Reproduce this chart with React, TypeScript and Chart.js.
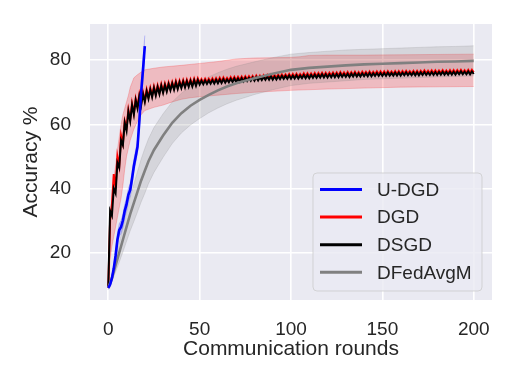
import React, { useEffect, useRef } from "react";
import { Chart, registerables } from "chart.js";

Chart.register(...registerables);

const seriesNames = ["U-DGD", "DGD", "DSGD", "DFedAvgM"];
const seriesColors = ["#0000ff", "#ff0000", "#000000", "#808080"];
const xTicks = [0, 50, 100, 150, 200];
const yTicks = [20, 40, 60, 80];

// U-DGD: rounds 0..20
const uDgd = [9, 10, 12, 15, 19, 24, 27, 28, 30, 33, 35, 38, 39.5, 43, 47, 50, 53, 61, 70, 77, 84.4];
const uDgdStd = [0.5, 0.8, 1, 1.2, 1.5, 2, 2, 2, 2, 2, 2, 2, 2, 2, 2, 2, 2, 2.5, 3, 3.2, 3.3];

// DGD: rounds 0..200
const dgd = [
  9.0, 30.0, 35.0, 44.5, 40.0, 50.0, 47.0, 56.5, 54.0, 61.0,
  59.0, 64.5, 61.5, 66.5, 63.5, 68.0, 65.5, 69.3, 66.5, 70.0,
  67.5, 70.8, 68.5, 71.3, 69.0, 71.8, 69.5, 72.1, 69.9, 72.5,
  70.3, 72.7, 70.7, 73.0, 71.1, 73.2, 71.3, 73.5, 71.5, 73.6,
  71.8, 73.8, 72.0, 73.9, 72.2, 74.0, 72.3, 74.2, 72.5, 74.3,
  72.9, 74.1, 73.0, 74.2, 73.1, 74.2, 73.2, 74.3, 73.2, 74.4,
  73.3, 74.5, 73.4, 74.6, 73.5, 74.5, 73.6, 74.7, 73.7, 74.8,
  73.7, 74.8, 73.8, 74.9, 73.9, 75.0, 74.0, 75.0, 74.1, 75.1,
  74.1, 75.2, 74.2, 75.2, 74.3, 75.3, 74.4, 75.4, 74.4, 75.5,
  74.4, 75.4, 74.5, 75.5, 74.6, 75.6, 74.7, 75.6, 74.7, 75.7,
  74.7, 75.7, 74.8, 75.8, 74.8, 75.7, 74.9, 75.9, 74.9, 75.9,
  74.9, 75.9, 75.0, 76.0, 75.0, 76.0, 75.1, 76.1, 75.1, 76.1,
  75.1, 76.1, 75.2, 76.2, 75.2, 76.2, 75.2, 76.3, 75.3, 76.2,
  75.3, 76.3, 75.3, 76.3, 75.4, 76.4, 75.4, 76.3, 75.4, 76.4,
  75.5, 76.4, 75.5, 76.5, 75.5, 76.4, 75.6, 76.5, 75.6, 76.5,
  75.6, 76.5, 75.6, 76.6, 75.7, 76.5, 75.7, 76.6, 75.7, 76.6,
  75.7, 76.6, 75.8, 76.7, 75.8, 76.6, 75.8, 76.7, 75.8, 76.7,
  75.8, 76.7, 75.9, 76.8, 75.9, 76.7, 75.9, 76.8, 75.9, 76.8,
  75.9, 76.8, 76.0, 76.9, 76.0, 76.8, 76.0, 76.9, 76.0, 76.9,
  76.0, 76.9, 76.1, 77.0, 76.1, 76.9, 76.1, 77.0, 76.1, 77.0,
  76.2,
];

// DSGD: rounds 0..200
const dsgd = [
  9.5, 33.0, 31.5, 40.0, 38.5, 48.0, 46.5, 55.0, 53.5, 60.5,
  58.0, 64.0, 61.0, 66.0, 63.0, 67.5, 65.0, 68.8, 66.0, 69.5,
  67.0, 70.3, 68.0, 70.8, 68.5, 71.3, 69.0, 71.6, 69.4, 72.0,
  69.8, 72.2, 70.2, 72.5, 70.6, 72.7, 70.8, 73.0, 71.0, 73.1,
  71.3, 73.3, 71.5, 73.4, 71.7, 73.5, 71.8, 73.7, 72.0, 73.8,
  72.4, 73.6, 72.5, 73.7, 72.6, 73.7, 72.7, 73.8, 72.7, 73.9,
  72.8, 74.0, 72.9, 74.1, 73.0, 74.0, 73.1, 74.2, 73.2, 74.3,
  73.2, 74.3, 73.3, 74.4, 73.4, 74.5, 73.5, 74.5, 73.6, 74.6,
  73.6, 74.7, 73.7, 74.7, 73.8, 74.8, 73.9, 74.9, 73.9, 75.0,
  73.9, 74.9, 74.0, 75.0, 74.1, 75.1, 74.2, 75.1, 74.2, 75.2,
  74.2, 75.2, 74.3, 75.3, 74.3, 75.2, 74.4, 75.4, 74.4, 75.4,
  74.4, 75.4, 74.5, 75.5, 74.5, 75.5, 74.6, 75.6, 74.6, 75.6,
  74.6, 75.6, 74.7, 75.7, 74.7, 75.7, 74.7, 75.8, 74.8, 75.7,
  74.8, 75.8, 74.8, 75.8, 74.9, 75.9, 74.9, 75.8, 74.9, 75.9,
  75.0, 75.9, 75.0, 76.0, 75.0, 75.9, 75.1, 76.0, 75.1, 76.0,
  75.1, 76.0, 75.1, 76.1, 75.2, 76.0, 75.2, 76.1, 75.2, 76.1,
  75.2, 76.1, 75.3, 76.2, 75.3, 76.1, 75.3, 76.2, 75.3, 76.2,
  75.3, 76.2, 75.4, 76.3, 75.4, 76.2, 75.4, 76.3, 75.4, 76.3,
  75.4, 76.3, 75.5, 76.4, 75.5, 76.3, 75.5, 76.4, 75.5, 76.4,
  75.5, 76.4, 75.6, 76.5, 75.6, 76.4, 75.6, 76.5, 75.6, 76.5,
  75.7,
];

// DGD shaded band
const dgdUpperRounds = [0, 1, 2, 3, 4, 5, 6, 7, 8, 9, 10, 11, 12, 13, 14, 16, 18, 20, 25, 30, 40, 50, 60, 70, 80, 90, 100, 105, 110, 120, 140, 160, 180, 200];
const dgdUpper = [9.5, 31, 37, 43, 47, 52, 56, 60, 63, 65, 67, 69, 71.5, 73, 74.5, 75.5, 76.3, 77, 77.5, 77.9, 78.4, 79.0, 79.6, 80.4, 80.7, 80.8, 80.9, 81.1, 81.5, 81.6, 81.6, 81.7, 81.8, 81.9];
const dgdLowerRounds = [0, 1, 2, 3, 4, 5, 6, 7, 8, 9, 10, 12, 14, 16, 18, 20, 25, 30, 35, 40, 45, 50, 60, 70, 80, 90, 100, 120, 140, 160, 180, 200];
const dgdLower = [8.8, 18, 22, 25, 28, 31, 34, 37, 41, 46, 50, 55, 58.5, 61, 63, 64.3, 65.3, 66, 67, 67.8, 68.3, 68.6, 69.1, 69.6, 70, 70.3, 70.6, 71, 71.3, 71.6, 71.7, 71.8];

// DFedAvgM mean and spread
const avgRounds = [0, 2, 4, 6, 8, 10, 12, 14, 16, 18, 20, 22, 25, 30, 35, 40, 45, 50, 55, 60, 65, 70, 75, 80, 90, 100, 110, 120, 130, 140, 150, 160, 170, 180, 190, 200];
const dfedavgm = [9, 12, 16, 20, 24, 28, 32, 35.5, 39, 42.5, 45.5, 48.5, 52, 56.5, 60.5, 63.5, 65.8, 67.6, 69.2, 70.6, 71.8, 72.8, 73.6, 74.4, 75.8, 77.0, 77.6, 78.0, 78.4, 78.7, 78.9, 79.1, 79.3, 79.5, 79.6, 79.8];
const dfedavgmStd = [0.5, 1, 2, 3, 3.8, 4.5, 5.2, 5.8, 6.3, 6.7, 7, 7, 7, 6.8, 6.5, 6.2, 6, 5.8, 5.6, 5.5, 5.4, 5.3, 5.2, 5.1, 5, 4.9, 4.8, 4.8, 4.8, 4.7, 4.7, 4.7, 4.7, 4.7, 4.7, 4.7];

const TEXT = "#262626";
const FONT = "'Liberation Sans', Arial, 'DejaVu Sans', sans-serif";

const bgPlugin = {
  id: "plotBg",
  beforeDraw(chart: any) {
    const { ctx, chartArea } = chart;
    ctx.save();
    ctx.fillStyle = "#ffffff";
    ctx.fillRect(0, 0, chart.width, chart.height);
    ctx.fillStyle = "#eaeaf2";
    ctx.fillRect(chartArea.left, chartArea.top, chartArea.right - chartArea.left, chartArea.bottom - chartArea.top);
    ctx.restore();
  },
};

const legendPlugin = {
  id: "boxLegend",
  afterDraw(chart: any) {
    const { ctx, chartArea } = chart;
    const w = 169;
    const h = 118;
    const x = chartArea.right - 10 - w;
    const y = chartArea.bottom - 9 - h;
    ctx.save();
    ctx.beginPath();
    if (ctx.roundRect) ctx.roundRect(x, y, w, h, 4);
    else ctx.rect(x, y, w, h);
    ctx.fillStyle = "rgba(234,234,242,0.8)";
    ctx.fill();
    ctx.strokeStyle = "rgba(204,204,204,0.8)";
    ctx.lineWidth = 1;
    ctx.stroke();
    ctx.font = `19px ${FONT}`;
    ctx.textBaseline = "middle";
    ctx.textAlign = "left";
    seriesNames.forEach((name, i) => {
      const ds = chart.data.datasets.find((d: any) => d.label === name);
      const cy = y + 16.5 + i * 27.6;
      ctx.beginPath();
      ctx.moveTo(x + 7, cy);
      ctx.lineTo(x + 49, cy);
      ctx.strokeStyle = ds ? ds.borderColor : seriesColors[i];
      ctx.lineWidth = 3;
      ctx.stroke();
      ctx.fillStyle = TEXT;
      ctx.fillText(name, x + 64, cy + 1);
    });
    ctx.restore();
  },
};

function pts(xs: number[], ys: number[]) {
  return ys.map((y, i) => ({ x: xs[i], y }));
}
function idx(ys: number[]) {
  return ys.map((y, i) => ({ x: i, y }));
}

export default function App() {
  const ref = useRef<HTMLCanvasElement | null>(null);

  useEffect(() => {
    document.body.style.margin = "0";
    const canvas = ref.current;
    if (!canvas) return;

    const uUpper = uDgd.map((v, i) => v + uDgdStd[i]);
    const uLower = uDgd.map((v, i) => v - uDgdStd[i]);
    const aUpper = dfedavgm.map((v, i) => v + dfedavgmStd[i]);
    const aLower = dfedavgm.map((v, i) => v - dfedavgmStd[i]);

    const lineBase = { pointRadius: 0, tension: 0, fill: false };
    const bandBase = { pointRadius: 0, tension: 0, borderWidth: 1 };

    const chart = new Chart(canvas, {
      type: "line",
      data: {
        datasets: [
          { ...lineBase, label: "U-DGD", data: idx(uDgd), borderColor: "#0000ff", borderWidth: 2.6 },
          { ...lineBase, label: "DFedAvgM", data: pts(avgRounds, dfedavgm), borderColor: "#808080", borderWidth: 2.6 },
          { ...lineBase, label: "DSGD", data: idx(dsgd), borderColor: "#000000", borderWidth: 2 },
          { ...lineBase, label: "DGD", data: idx(dgd), borderColor: "#ff0000", borderWidth: 2 },
          { ...bandBase, data: idx(uUpper), borderColor: "rgba(0,0,255,0.2)", backgroundColor: "rgba(0,0,255,0.2)", fill: "+1" },
          { ...bandBase, data: idx(uLower), borderColor: "rgba(0,0,255,0.2)", fill: false },
          { ...bandBase, data: pts(avgRounds, aUpper), borderColor: "rgba(128,128,128,0.2)", backgroundColor: "rgba(128,128,128,0.2)", fill: "+1" },
          { ...bandBase, data: pts(avgRounds, aLower), borderColor: "rgba(128,128,128,0.2)", fill: false },
          { ...bandBase, data: pts(dgdUpperRounds, dgdUpper), borderColor: "rgba(255,0,0,0.2)", backgroundColor: "rgba(255,0,0,0.2)", fill: "+1" },
          { ...bandBase, data: pts(dgdLowerRounds, dgdLower), borderColor: "rgba(255,0,0,0.2)", fill: false },
        ],
      },
      options: {
        animation: false,
        responsive: false,
        maintainAspectRatio: false,
        devicePixelRatio: 1,
        parsing: false as any,
        layout: { padding: { left: 0, right: 23, top: 24, bottom: 0 } },
        plugins: { legend: { display: false }, tooltip: { enabled: false } },
        scales: {
          x: {
            type: "linear",
            min: -10,
            max: 210,
            afterBuildTicks: (s: any) => {
              s.ticks = xTicks.map((v) => ({ value: v }));
            },
            afterFit: (s: any) => {
              s.height = 86;
              s.paddingLeft = 0;
              s.paddingRight = 0;
            },
            grid: { color: "#ffffff", lineWidth: 1.6, drawTicks: false },
            border: { display: false },
            ticks: { color: TEXT, font: { family: FONT, size: 19 }, padding: 18, maxRotation: 0 },
            title: { display: true, text: "Communication rounds", color: TEXT, font: { family: FONT, size: 21 }, padding: { top: 0, bottom: 24 } },
          },
          y: {
            type: "linear",
            min: 5.2,
            max: 91.3,
            afterBuildTicks: (s: any) => {
              s.ticks = yTicks.map((v) => ({ value: v }));
            },
            afterFit: (s: any) => {
              s.width = 90;
              s.paddingTop = 0;
              s.paddingBottom = 0;
            },
            grid: { color: "#ffffff", lineWidth: 1.6, drawTicks: false },
            border: { display: false },
            ticks: { color: TEXT, font: { family: FONT, size: 19 }, padding: 19 },
            title: { display: true, text: "Accuracy %", color: TEXT, font: { family: FONT, size: 21 }, padding: { top: 19, bottom: 0 } },
          },
        },
      },
      plugins: [bgPlugin, legendPlugin],
    } as any);

    return () => chart.destroy();
  }, []);

  return (
    <div style={{ position: "absolute", left: 0, top: 0, width: 515, height: 386 }}>
      <canvas ref={ref} width={515} height={386} style={{ display: "block", width: 515, height: 386 }} />
    </div>
  );
}
